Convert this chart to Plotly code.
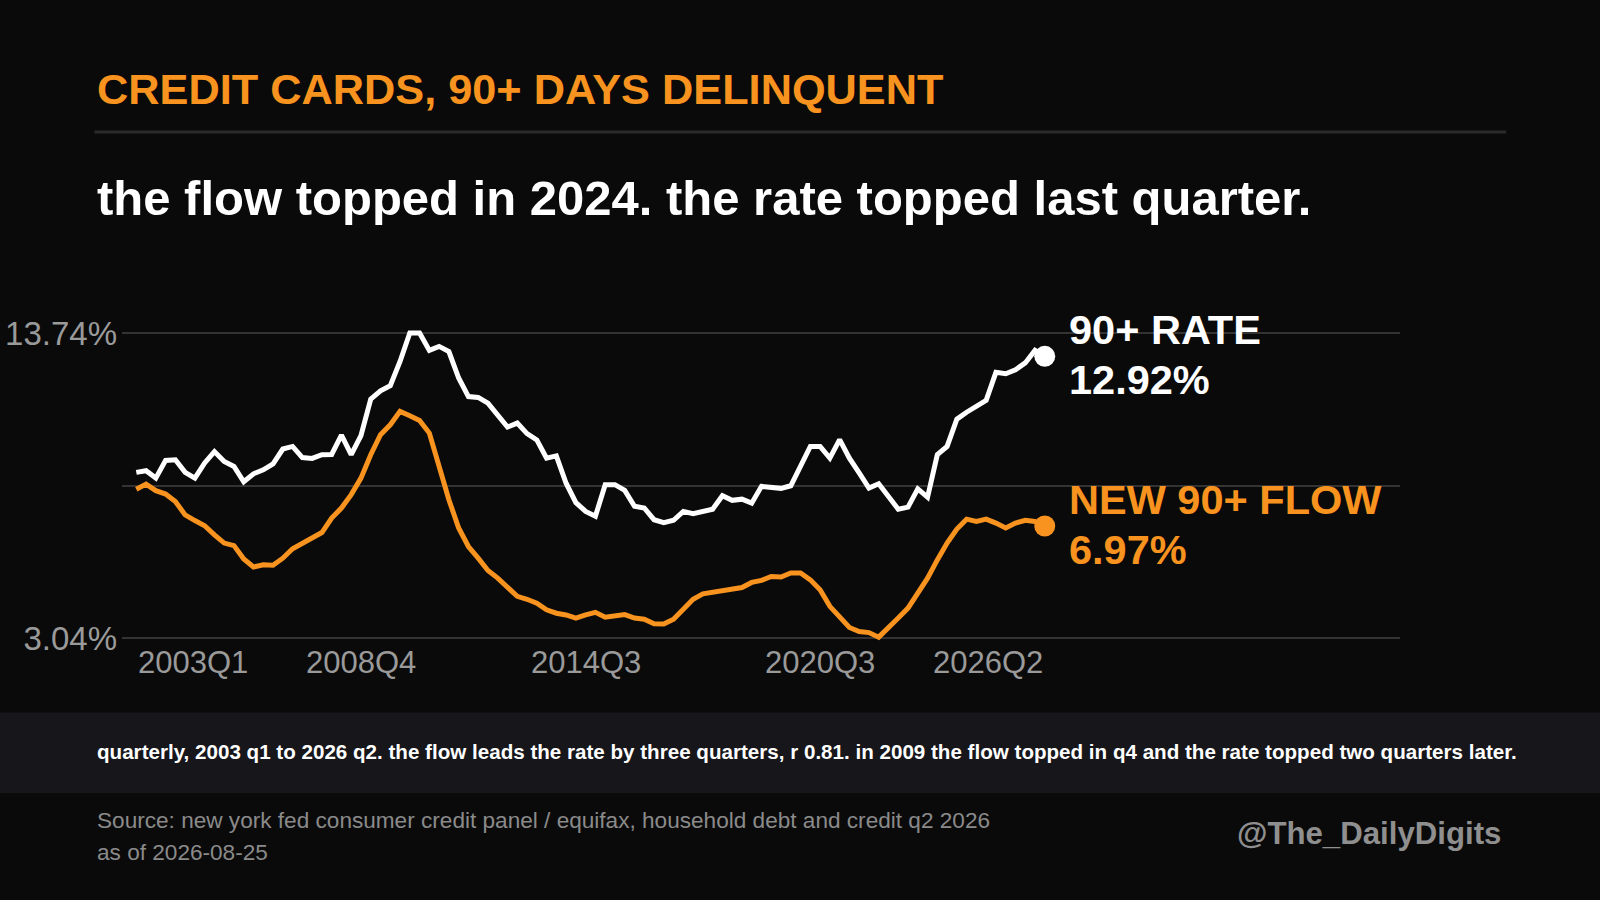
import plotly.graph_objects as go

quarters = [f"{y}Q{q}" for y in range(2003, 2027) for q in range(1, 5)][:94]

rate = [8.85, 8.91, 8.65, 9.27, 9.29, 8.85, 8.65, 9.18, 9.58, 9.23, 9.06, 8.52, 8.80, 8.94, 9.15, 9.67,
        9.76, 9.37, 9.34, 9.47, 9.48, 10.16, 9.47, 10.14, 11.42, 11.71, 11.89, 12.74, 13.74, 13.74, 13.13, 13.27,
        13.09, 12.16, 11.51, 11.48, 11.28, 10.87, 10.44, 10.58, 10.21, 9.99, 9.35, 9.43, 8.47, 7.79,
        7.48, 7.31, 8.42, 8.42, 8.22, 7.66, 7.60, 7.19, 7.09, 7.17, 7.48, 7.40, 7.48, 7.56, 8.03, 7.87,
        7.91, 7.77, 8.36, 8.34, 8.29, 8.38, 9.12, 9.76, 9.76, 9.35, 10.00, 9.35, 8.83, 8.30, 8.45, 8.01,
        7.56, 7.63, 8.27, 7.98, 9.47, 9.76, 10.72, 10.96, 11.17, 11.38, 12.36, 12.31, 12.45, 12.69, 13.13, 12.92]

flow = [8.26, 8.44, 8.21, 8.09, 7.83, 7.36, 7.16, 6.98, 6.66, 6.37, 6.28, 5.81, 5.53, 5.61, 5.59, 5.84,
        6.17, 6.37, 6.54, 6.74, 7.25, 7.60, 8.07, 8.65, 9.47, 10.17, 10.52, 10.99, 10.84, 10.67, 10.23, 9.06,
        7.89, 6.90, 6.25, 5.84, 5.41, 5.14, 4.79, 4.50, 4.40, 4.26, 4.03, 3.91, 3.85, 3.74,
        3.85, 3.94, 3.77, 3.82, 3.86, 3.74, 3.70, 3.54, 3.53, 3.70, 4.05, 4.40, 4.59, 4.64, 4.73, 4.77,
        4.81, 4.99, 5.06, 5.20, 5.18, 5.32, 5.32, 5.08, 4.73, 4.15, 3.80, 3.41, 3.27, 3.23, 3.07, 3.39,
        3.74, 4.09, 4.61, 5.14, 5.78, 6.37, 6.86, 7.21, 7.13, 7.21, 7.07, 6.90, 7.07, 7.17, 7.13, 6.97]

ytick_vals = [3.04, 8.39, 13.74]
ytick_text = ["3.04%", "", "13.74%"]
xtick_labels = ["2003Q1", "2008Q4", "2014Q3", "2020Q3", "2026Q2"]

ORANGE = "#F7931E"
BG = "#0a0a0a"
FONT = "Liberation Sans"
S = 1600 / 1568  # reference measured at 1568 wide

# geometry (reference pixels * S)
L, R = 120 * S, 1372 * S
X0P, X1P = 134 * S, 1024 * S
pxq = (X1P - X0P) / 93
x0 = -(X0P - L) / pxq
x1 = 93 + (R - X1P) / pxq
YT, YB = 326 * S, 625 * S
ppu = (YB - YT) / 10.7
ylo, yhi = 2.9, 13.88
top = YT - (yhi - 13.74) * ppu
bot = YB + (3.04 - ylo) * ppu
PW, PH = R - L, bot - top

idx = list(range(len(quarters)))
fig = go.Figure()
fig.add_trace(go.Scatter(x=idx, y=rate, mode="lines", line=dict(color="white", width=5), cliponaxis=False))
fig.add_trace(go.Scatter(x=idx, y=flow, mode="lines", line=dict(color=ORANGE, width=5), cliponaxis=False))
fig.add_trace(go.Scatter(x=[idx[-1]], y=[rate[-1]], mode="markers", marker=dict(color="white", size=21), cliponaxis=False))
fig.add_trace(go.Scatter(x=[idx[-1]], y=[flow[-1]], mode="markers", marker=dict(color=ORANGE, size=21), cliponaxis=False))

ann = []
for lab in xtick_labels:
    i = quarters.index(lab)
    anchor = "left" if i == 0 else ("right" if i == len(quarters) - 1 else "center")
    ann.append(dict(x=i, y=0, xref="x", yref="paper", yanchor="top", xanchor=anchor, yshift=-1,
                    text=lab, showarrow=False, font=dict(size=31, color="#9a9a9a", family=FONT)))

def px(x):
    return (x * S - L) / PW

def py(y):
    return 1 - (y * S - top) / PH

def ptext(x, y, t, size, color, bold=True, xa="left"):
    return dict(x=px(x), y=py(y), xref="paper", yref="paper", xanchor=xa, yanchor="middle",
                text=f"<b>{t}</b>" if bold else t, showarrow=False, font=dict(size=size, color=color, family=FONT))

ann += [
    ptext(94, 87, "CREDIT CARDS, 90+ DAYS DELINQUENT", 43.3, ORANGE),
    ptext(94, 194, "the flow topped in 2024. the rate topped last quarter.", 49, "white"),
    ptext(1046, 323, "90+ RATE", 41.5, "white"),
    ptext(1046, 372, f"{rate[-1]:.2f}%", 41.5, "white"),
    ptext(1046, 489, "NEW 90+ FLOW", 41.5, ORANGE),
    ptext(1046, 538, f"{flow[-1]:.2f}%", 41.5, ORANGE),
    ptext(94, 736, "quarterly, 2003 q1 to 2026 q2. the flow leads the rate by three quarters, r 0.81. in 2009 the flow topped in q4 and the rate topped two quarters later.", 20.6, "white"),
    ptext(94, 804, "Source: new york fed consumer credit panel / equifax, household debt and credit q2 2026", 22.6, "#8a8a8a", bold=False),
    ptext(94, 835, "as of 2026-08-25", 22.6, "#8a8a8a", bold=False),
    ptext(1473, 817, "@The_DailyDigits", 31.2, "#8f8f8f", xa="right"),
]

shapes = [
    dict(type="line", xref="paper", yref="paper", x0=px(93), x1=px(1476), y0=py(129), y1=py(129),
         line=dict(color="#2a2a2a", width=3)),
    dict(type="rect", xref="paper", yref="paper", x0=px(0), x1=px(1568), y0=py(777), y1=py(698),
         fillcolor="#16161b", line=dict(width=0), layer="below"),
]

fig.update_layout(
    width=1600, height=900, paper_bgcolor=BG, plot_bgcolor=BG, showlegend=False,
    margin=dict(l=L, r=1600 - R, t=top, b=900 - bot, autoexpand=False),
    xaxis=dict(range=[x0, x1], showgrid=False, zeroline=False, showticklabels=False, fixedrange=True),
    yaxis=dict(range=[ylo, yhi], tickvals=ytick_vals, ticktext=ytick_text, showgrid=True,
               gridcolor="#333333", gridwidth=2, zeroline=False, ticks="", ticklabelstandoff=4,
               tickfont=dict(size=33, color="#9a9a9a", family=FONT)),
    annotations=ann, shapes=shapes,
)
fig.write_html("out.html", config={"displayModeBar": False},
               post_script="document.body.style.margin='0';document.body.style.background='#0a0a0a';")
